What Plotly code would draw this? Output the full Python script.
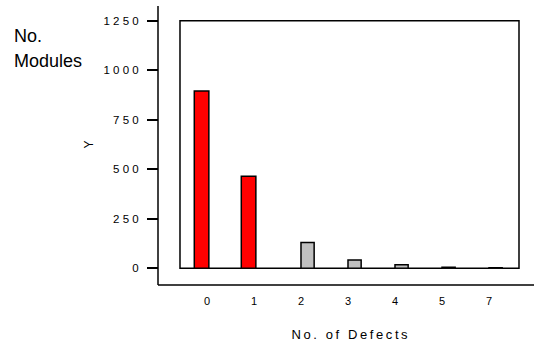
import plotly.graph_objects as go

categories = ["0", "1", "2", "3", "4", "5", "7"]
modules = [895, 465, 130, 42, 17, 5, 2]
highlight = [True, True, False, False, False, False, False]
y_ticks = [0, 250, 500, 750, 1000, 1250]
y_tick_labels = ["0", "250", "500", "750", "1000", "1250"]
x_title = "No. of Defects"
y_title = "Y"
side_label = ["No.", "Modules"]

def spaced(s, sp):
    return sp.join(list(s))

red_x = [c for c, h in zip(categories, highlight) if h]
red_y = [v for v, h in zip(modules, highlight) if h]
grey_x = [c for c, h in zip(categories, highlight) if not h]
grey_y = [v for v, h in zip(modules, highlight) if not h]

FONT = "Liberation Sans, Arial, sans-serif"

fig = go.Figure()
fig.add_trace(go.Bar(x=red_x, y=red_y, offset=-0.27, width=0.31,
                     marker=dict(color="#FF0000", line=dict(color="black", width=1.5)),
                     showlegend=False))
fig.add_trace(go.Bar(x=grey_x, y=grey_y, offset=0.0, width=0.28,
                     marker=dict(color="#C0C0C0", line=dict(color="black", width=1.5)),
                     showlegend=False))

fig.update_layout(
    width=534, height=344,
    margin=dict(l=158, r=0, t=2, b=59),
    plot_bgcolor="white", paper_bgcolor="white",
    barmode="overlay",
    font=dict(family=FONT, color="black", size=11),
    xaxis=dict(type="category", categoryorder="array", categoryarray=categories,
               range=[-0.574, 6.638], domain=[0.0585, 0.9601],
               anchor="free", position=0, showline=False, showgrid=False, zeroline=False,
               ticks="outside", ticklen=6, tickcolor="rgba(0,0,0,0)",
               tickfont=dict(size=11),
               title=dict(text=spaced(x_title, "\u2009"), font=dict(size=13), standoff=23)),
    yaxis=dict(range=[0, 1250], domain=[0.0601, 0.947],
               anchor="free", position=0, showline=False, showgrid=False, zeroline=False,
               ticks="outside", ticklen=11, tickwidth=1.5, tickcolor="black",
               ticklabelstandoff=6,
               tickvals=y_ticks, ticktext=[spaced(t, " ") for t in y_tick_labels],
               tickfont=dict(size=11.5),
               title=dict(text=y_title, font=dict(size=12), standoff=6)),
    shapes=[
        dict(type="rect", xref="x domain", yref="y domain", x0=0, x1=1, y0=0, y1=1,
             line=dict(color="black", width=1.5), layer="below"),
        dict(type="line", xref="paper", yref="paper", x0=0, x1=0, y0=0, y1=1,
             line=dict(color="black", width=1.5)),
        dict(type="line", xref="paper", yref="paper", x0=0, x1=1, y0=0, y1=0,
             line=dict(color="black", width=1.5)),
    ],
    annotations=[
        dict(text=side_label[0], xref="paper", yref="paper", x=-158/376 + 12/376, y=(285-32)/283,
             xanchor="left", yanchor="middle", showarrow=False, font=dict(size=18)),
        dict(text=side_label[1], xref="paper", yref="paper", x=-158/376 + 12/376, y=(285-58)/283,
             xanchor="left", yanchor="middle", showarrow=False, font=dict(size=18)),
    ],
)

fig.write_html("out.html", config={"displayModeBar": False},
               post_script="document.body.style.margin='0';")
